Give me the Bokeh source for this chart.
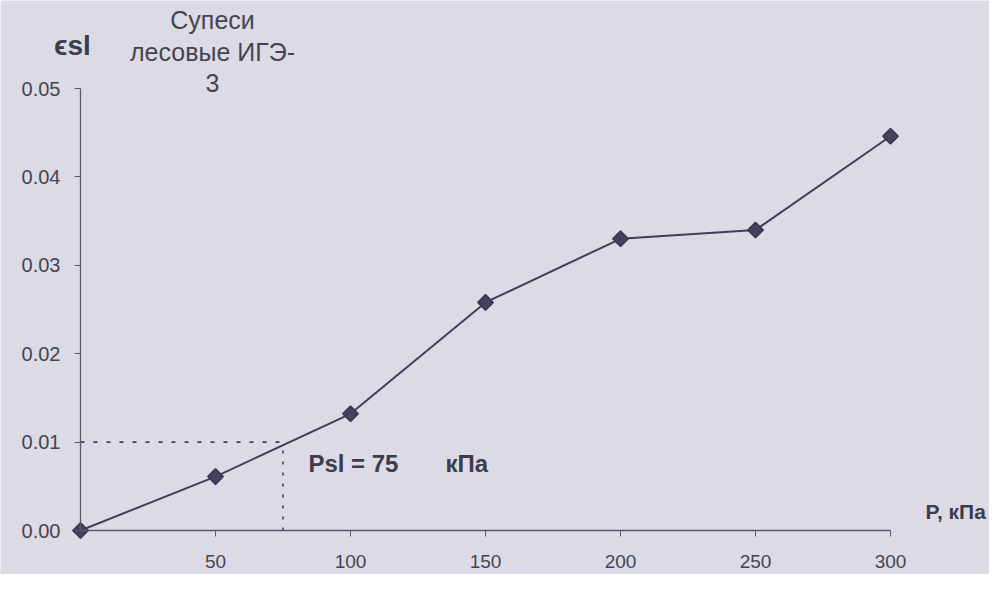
import math
from bokeh.plotting import figure
from bokeh.models import Range1d, Label, FixedTicker, NumeralTickFormatter
from bokeh.embed import file_html
from bokeh.resources import INLINE

# data
pressure = [0, 50, 100, 150, 200, 250, 300]
strain = [0.0, 0.0061, 0.0132, 0.0258, 0.0330, 0.0340, 0.0446]
x_ticks = [50, 100, 150, 200, 250, 300]
y_ticks = [0.0, 0.01, 0.02, 0.03, 0.04, 0.05]
psl_value = 75
psl_strain = 0.01

BG = "#dcdbe5"
INK = "#423d5c"
TXT = "#45444f"
FONT = "Liberation Sans"

W, H = 989, 574
x0px, x1px = 80, 890      # canvas px of x=0 and x=300
y0px, y1px = 530, 88      # canvas px (from top) of y=0 and y=0.05
sx = (x1px - x0px) / 300.0
sy = (y0px - y1px) / 0.05

p = figure(width=W, height=H, output_backend="svg", toolbar_location=None,
           x_range=Range1d(-x0px / sx, 300 + (W - x1px) / sx),
           y_range=Range1d(-(H - y0px) / sy, 0.05 + y1px / sy),
           min_border_left=0, min_border_right=0, min_border_top=0, min_border_bottom=0)
p.background_fill_color = BG
p.border_fill_color = BG
p.outline_line_color = None
p.grid.visible = False

p.xaxis.ticker = FixedTicker(ticks=x_ticks)
p.yaxis.ticker = FixedTicker(ticks=y_ticks)
p.yaxis.formatter = NumeralTickFormatter(format="0.00")
p.xaxis.fixed_location = 0
p.yaxis.fixed_location = 0
p.xaxis.bounds = (0, 300)
p.yaxis.bounds = (0, 0.05)
for ax in (p.xaxis, p.yaxis):
    ax.axis_line_color = "#5a5870"
    ax.axis_line_width = 1.3
    ax.major_tick_line_color = "#5a5870"
    ax.minor_tick_line_color = None
    ax.major_tick_out = 6
    ax.major_tick_in = 0
    ax.major_label_text_font = FONT
    ax.major_label_text_color = TXT
p.xaxis.major_label_text_font_size = "19px"
p.yaxis.major_label_text_font_size = "20px"
p.xaxis.major_label_standoff = 18
p.yaxis.major_label_standoff = 14

# Psl guide lines
p.line([0, psl_value], [psl_strain, psl_strain], line_color=INK, line_width=1.6, line_dash="4 9")
p.line([psl_value, psl_value], [0, psl_strain * 0.92], line_color=INK, line_width=1.6, line_dash="3 8")

p.line(pressure, strain, line_color=INK, line_width=2)
p.scatter(pressure, strain, marker="square", angle=math.pi / 4, size=11,
          fill_color="#46405f", line_color="#3a3552", line_width=1.5)

def lab(x, y, t, size, bold=False, align="left"):
    p.add_layout(Label(x=x, y=y, text=t, text_font=FONT, text_font_size=size,
                       text_font_style="bold" if bold else "normal",
                       text_color="#3d3c4c" if bold else TXT,
                       text_align=align, text_baseline="middle"))

lab(48.9, 0.0577, "Супеси", "25px", align="center")
lab(48.9, 0.0541, "лесовые ИГЭ-", "25px", align="center")
lab(48.9, 0.0506, "3", "25px", align="center")
lab(-3.0, 0.0549, "ϵsl", "28px", bold=True, align="center")
lab(313.0, 0.0021, "P, кПа", "21px", bold=True)
lab(84.4, 0.0076, "Psl = 75", "24px", bold=True)
lab(135.2, 0.0076, "кПа", "24px", bold=True)

open("out.html", "w").write(file_html(p, INLINE))
